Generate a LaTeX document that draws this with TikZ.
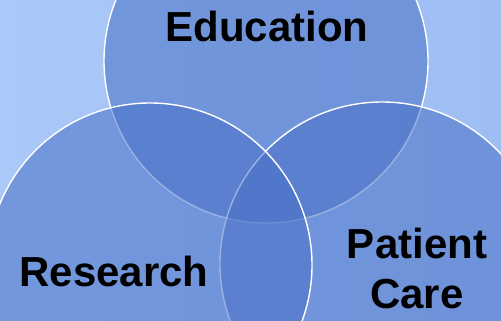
\documentclass[tikz,border=0pt]{standalone}
\usepackage{fontspec}
\setmainfont{Liberation Sans}
\usepackage{tikz}
\definecolor{bgleft}{HTML}{AAC8F8}
\definecolor{bgright}{HTML}{9EBEF3}
\definecolor{vennblue}{HTML}{4870C6}
\tikzset{
  venn/.style={circle, draw=white, line width=1.4pt, fill=vennblue,
    fill opacity=0.55, minimum size=324pt, inner sep=0pt},
  lbl/.style={font=\fontsize{42}{50}\selectfont\bfseries, text=black,
    inner sep=0pt, align=center}
}

\begin{document}
\begin{tikzpicture}[x=1pt, y=-1pt]
      \useasboundingbox (0,0) rectangle (501,321);
      \clip (0,0) rectangle (501,321);
      \shade[left color=bgleft, right color=bgright] (0,0) rectangle (501,321);
      % Define circles
      \node[venn] (edu) at (266,61) {};
      \node[venn] (care) at (382,264) {};
      \node[venn] (res) at (150,265) {};
      % Labels
      \node[lbl, anchor=base] (edutxt) at (267,42) {Education};
      \node[lbl, anchor=base] (restxt) at (114,286) {Research};
      \node[lbl, anchor=base] (caretxt) at (417,308) {Patient\\Care};
    \end{tikzpicture}
\end{document}
